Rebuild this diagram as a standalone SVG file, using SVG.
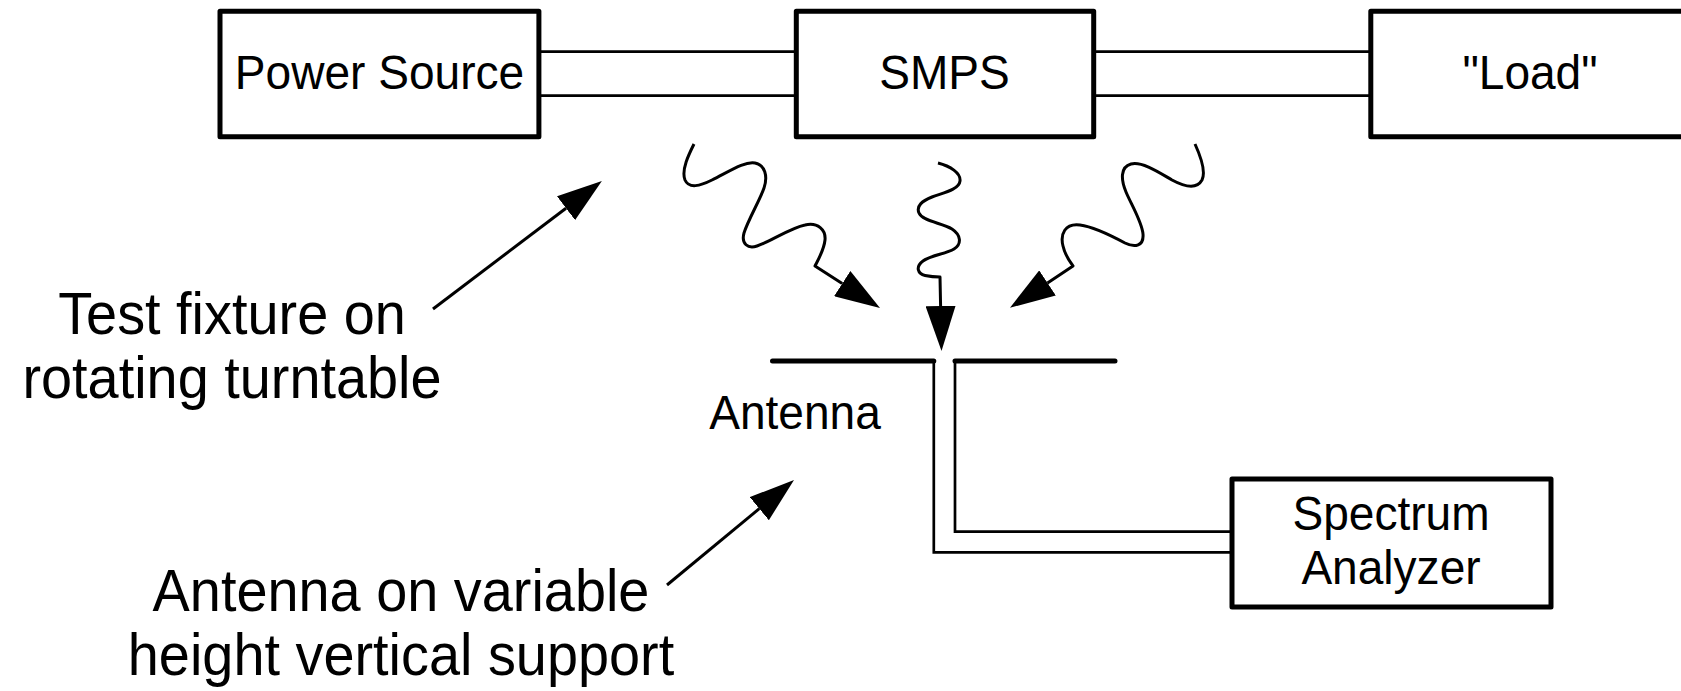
<svg xmlns="http://www.w3.org/2000/svg" width="1681" height="691" viewBox="0 0 1681 691">
<style>
.box{fill:#fff;stroke:#000;stroke-width:5;stroke-linejoin:round}
.lbl{font-family:"Liberation Sans",Arial,Helvetica,sans-serif;font-size:48px;fill:#000;text-anchor:middle}
.big{font-family:"Liberation Sans",Arial,Helvetica,sans-serif;font-size:58.5px;fill:#000;text-anchor:middle}
.wire{fill:none;stroke:#000;stroke-width:2.7}
.wave{fill:none;stroke:#000;stroke-width:3;stroke-linejoin:round}
.ant{fill:none;stroke:#000;stroke-width:5;stroke-linecap:round}
</style>
<defs>
<marker id="ah" viewBox="0 0 45 30" refX="0" refY="15" markerWidth="45" markerHeight="30" markerUnits="userSpaceOnUse" orient="auto">
<path d="M0,0 L45,15 L0,30 Z" fill="#000"/>
</marker>
</defs>
<rect width="1681" height="691" fill="#fff"/>
<g id="connectors">
<path class="wire" d="M538.9,51.7 H796.3 M538.9,95.7 H796.3"/>
<path class="wire" d="M1093.7,51.7 H1370.8 M1093.7,95.7 H1370.8"/>
<path class="wire" d="M933.8,361 V552.3 H1232 M955,361 V531.7 H1232"/>
<path class="wave" marker-end="url(#ah)" d="M694,144 C689,154 681,170 685,180 C689,189 700,186 712,180 C730,171 745,161 755,163 C765,165 768,176 764,188 C760,200 748,220 744,233 C741,244 748,249 757,246 C770,242 790,228 805,225 C818,222 826,230 825,240 C824,250 818,260 815,266 L842.2,283.6"/>
<path class="wave" marker-end="url(#ah)" d="M938,163 C950,166 961,173 960,181 C959,190 942,193 932,197 C922,201 916,206 919,213 C922,221 942,223 952,229 C961,235 962,244 954,249 C946,254 931,255 923,261 C915,267 918,274 925,275.5 C930,276.5 936,277 940,277 L940.6,306"/>
<path class="wave" marker-end="url(#ah)" d="M1195,144 C1200,155 1206,172 1202,180 C1197,189 1185,187 1172,180 C1160,173 1142,161 1131,164 C1120,167 1121,180 1126,192 C1131,204 1142,222 1143,234 C1144,246 1135,248 1125,243 C1112,236 1095,227 1080,225 C1065,223 1060,234 1063,246 C1065,255 1070,262 1073,266 L1047.5,282.9"/>
<path class="wave" marker-end="url(#ah)" d="M433,309 L566,208.2"/>
<path class="wave" marker-end="url(#ah)" d="M667,585 L759.3,508.7"/>
</g>
<g id="power-source">
<rect class="box" x="220" y="11.2" width="318.9" height="125.6"/>
<text class="lbl" transform="translate(379.5,89.3) scale(0.96,1)">Power Source</text>
</g>
<g id="smps">
<rect class="box" x="796.3" y="11.2" width="297.4" height="125.6"/>
<text class="lbl" transform="translate(944.5,89.3) scale(0.96,1)">SMPS</text>
</g>
<g id="load">
<rect class="box" x="1370.8" y="11.2" width="325" height="125.6"/>
<text class="lbl" transform="translate(1530,89.3) scale(0.96,1)">"Load"</text>
</g>
<g id="antenna">
<path class="ant" d="M772.5,361 H933.8 M955,361 H1115"/>
<text class="lbl" transform="translate(795,429) scale(0.96,1)">Antenna</text>
</g>
<g id="spectrum-analyzer">
<rect class="box" x="1232" y="479" width="319" height="128"/>
<text class="lbl" transform="translate(1391,530) scale(0.96,1)">Spectrum</text>
<text class="lbl" transform="translate(1391,584) scale(0.96,1)">Analyzer</text>
</g>
<g id="test-fixture-note">
<text class="big" transform="translate(232,334) scale(0.955,1)">Test fixture on</text>
<text class="big" transform="translate(232,398.3) scale(0.955,1)">rotating turntable</text>
</g>
<g id="antenna-note">
<text class="big" transform="translate(401,611) scale(0.955,1)">Antenna on variable</text>
<text class="big" transform="translate(401,675) scale(0.955,1)">height vertical support</text>
</g>
</svg>
